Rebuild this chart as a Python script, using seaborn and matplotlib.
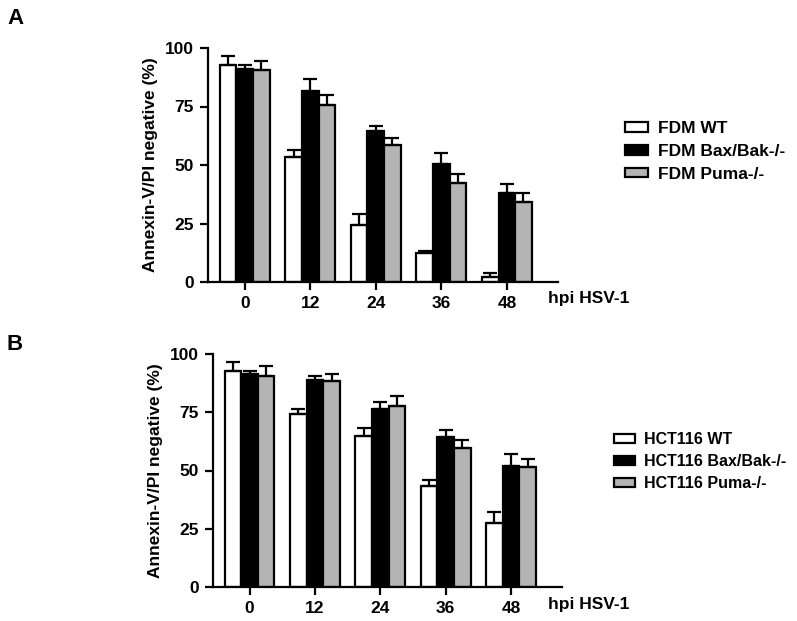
import matplotlib
matplotlib.use("Agg")
import matplotlib.pyplot as plt
import seaborn as sns
import pandas as pd
from matplotlib.patches import Patch

hours = ["0", "12", "24", "36", "48"]

fdm_groups = ["FDM WT", "FDM Bax/Bak-/-", "FDM Puma-/-"]
fdm_wt = [92.7, 53.6, 24.4, 12.2, 2.0]
fdm_wt_err = [3.9, 2.8, 4.5, 1.2, 2.0]
fdm_bax = [91.0, 81.8, 64.5, 50.4, 38.2]
fdm_bax_err = [1.7, 4.8, 2.2, 4.9, 3.6]
fdm_puma = [90.6, 75.6, 58.4, 42.2, 34.1]
fdm_puma_err = [4.0, 4.3, 3.0, 4.0, 3.8]

hct_groups = ["HCT116 WT", "HCT116 Bax/Bak-/-", "HCT116 Puma-/-"]
hct_wt = [92.8, 74.2, 64.8, 43.3, 27.6]
hct_wt_err = [3.6, 2.0, 3.6, 2.5, 4.7]
hct_bax = [91.4, 88.8, 76.5, 64.5, 51.9]
hct_bax_err = [1.4, 1.9, 2.8, 2.9, 5.2]
hct_puma = [90.7, 88.4, 77.7, 59.5, 51.6]
hct_puma_err = [4.3, 2.9, 4.4, 3.6, 3.2]

colors = ["white", "black", "#b4b4b4"]

sns.set_style("ticks")
plt.rcParams["font.family"] = ["Liberation Sans", "DejaVu Sans"]
plt.rcParams["font.weight"] = "bold"
for k in ["text.color", "axes.labelcolor", "xtick.color", "ytick.color", "axes.edgecolor"]:
    plt.rcParams[k] = "black"

FS = 12.5
fig = plt.figure(figsize=(7.97, 6.21), dpi=100)
W, H = 797, 621


def panel(rect, groups, vals, errs, legend_xy, legend_fs, label_y, letter, letter_y):
    l, t, r, b = rect
    ax = fig.add_axes([l / W, 1 - b / H, (r - l) / W, (b - t) / H])
    rows = []
    for g, v in zip(groups, vals):
        for h, y in zip(hours, v):
            rows.append({"hpi": h, "group": g, "value": y})
    df = pd.DataFrame(rows)
    sns.barplot(data=df, x="hpi", y="value", hue="group", order=hours,
                hue_order=groups, palette=colors, width=0.76, errorbar=None,
                edgecolor="black", linewidth=1.6, saturation=1, legend=False, ax=ax)
    for cont, err in zip(ax.containers, errs):
        xs = [p.get_x() + p.get_width() / 2 for p in cont]
        ys = [p.get_height() for p in cont]
        ax.errorbar(xs, ys, yerr=[[0] * len(err), err], fmt="none",
                    ecolor="black", elinewidth=1.6, capsize=5, capthick=1.6, zorder=1)
    ax.set_xlim(-0.56, 4.78)
    ax.set_ylim(0, 100)
    ax.set_yticks([0, 25, 50, 75, 100])
    ax.set_xlabel("")
    ax.set_ylabel("Annexin-V/PI negative (%)", fontsize=FS, fontweight="bold", labelpad=5)
    ax.tick_params(axis="both", labelsize=FS, width=1.6, length=6, direction="out", pad=4)
    for lab in ax.get_xticklabels() + ax.get_yticklabels():
        lab.set_fontweight("bold")
    for s in ["left", "bottom"]:
        ax.spines[s].set_linewidth(1.6)
    sns.despine(ax=ax)
    fig.text(548 / W, 1 - label_y / H, "hpi HSV-1", fontsize=FS, fontweight="bold",
             ha="left", va="center")
    fig.text(7 / W, 1 - letter_y / H, letter, fontsize=16,
             fontweight="bold", ha="left", va="center")
    handles = [Patch(facecolor=c, edgecolor="black", linewidth=1.6) for c in colors]
    ax.legend(handles, groups, loc="upper left",
              bbox_to_anchor=(legend_xy[0] / W, 1 - legend_xy[1] / H),
              bbox_transform=fig.transFigure, frameon=False,
              handlelength=1.3, handleheight=0.5, labelspacing=0.45,
              handletextpad=0.6, borderpad=0, borderaxespad=0,
              prop={"weight": "bold", "size": legend_fs})
    return ax


panel((208, 48, 558, 282), fdm_groups, [fdm_wt, fdm_bax, fdm_puma],
      [fdm_wt_err, fdm_bax_err, fdm_puma_err], (625, 121), FS, 298, "A", 19)
panel((213, 354, 562, 587), hct_groups, [hct_wt, hct_bax, hct_puma],
      [hct_wt_err, hct_bax_err, hct_puma_err], (614, 432), 11.5, 605, "B", 345)

fig.savefig("out.png", dpi=100)
